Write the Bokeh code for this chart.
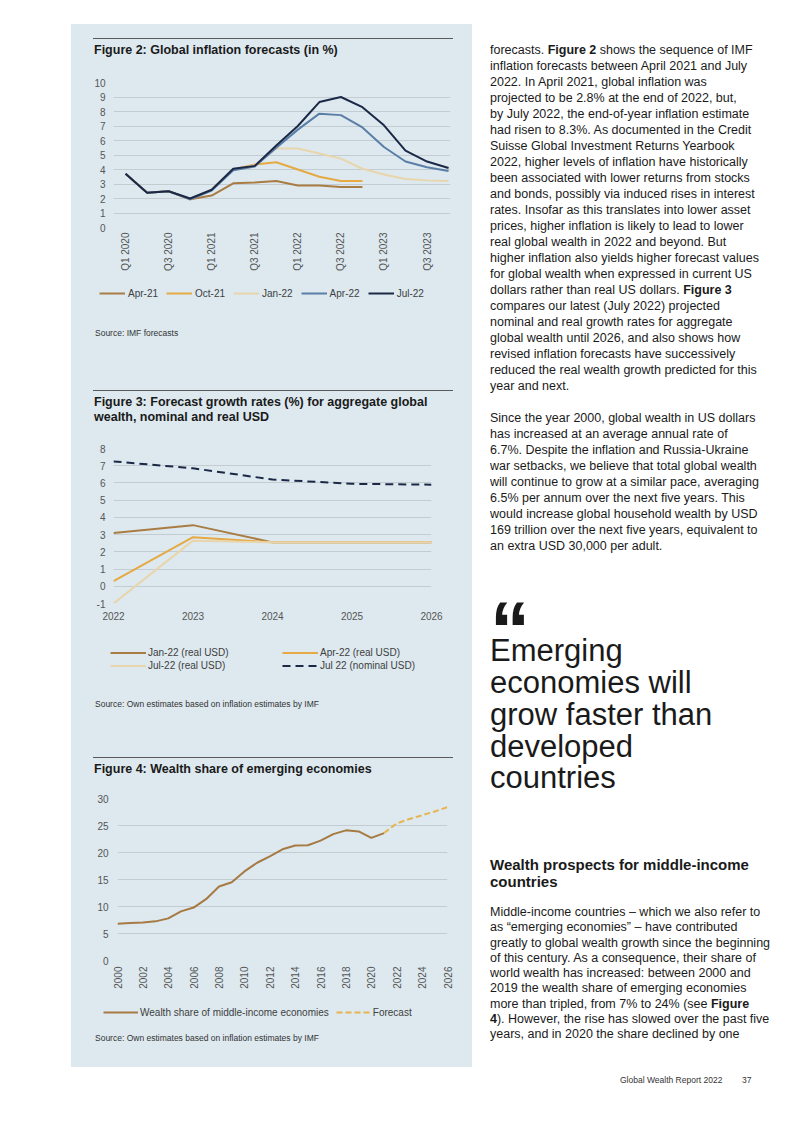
import math
from bokeh.plotting import figure
from bokeh.models import Range1d, FixedTicker, Legend, LegendItem, Div, Spacer
from bokeh.layouts import column, row
from bokeh.embed import file_html
from bokeh.resources import INLINE

PANEL = "#dde9ef"
GRID = "#c3ccd1"
FONT = "Liberation Sans"
TICK_COLOR = "#555555"
LEG_COLOR = "#404040"

BROWN = "#a97c44"
GOLD = "#e5aa44"
BEIGE = "#e9d5ab"
STEEL = "#5a7ea6"
NAVY = "#1b2846"

# ---------------- Figure 2 data: global inflation forecasts (%) ----------------
quarters = ["Q1 2020", "Q2 2020", "Q3 2020", "Q4 2020",
            "Q1 2021", "Q2 2021", "Q3 2021", "Q4 2021",
            "Q1 2022", "Q2 2022", "Q3 2022", "Q4 2022",
            "Q1 2023", "Q2 2023", "Q3 2023", "Q4 2023"]
infl_apr21 = [3.7, 2.4, 2.5, 1.95, 2.2, 3.05, 3.1, 3.2, 2.9, 2.9, 2.8, 2.8]
infl_oct21 = [3.7, 2.4, 2.5, 1.95, 2.6, 4.0, 4.35, 4.5, 4.0, 3.5, 3.2, 3.2]
infl_jan22 = [3.7, 2.4, 2.5, 1.95, 2.6, 4.0, 4.3, 5.45, 5.45, 5.1, 4.75, 4.05, 3.65, 3.35, 3.25, 3.2]
infl_apr22 = [3.7, 2.4, 2.5, 1.95, 2.55, 3.95, 4.2, 5.5, 6.75, 7.85, 7.75, 6.9, 5.55, 4.55, 4.15, 3.9]
infl_jul22 = [3.7, 2.4, 2.5, 2.0, 2.6, 4.05, 4.25, 5.65, 7.0, 8.65, 9.0, 8.3, 7.05, 5.3, 4.55, 4.1]
infl_yticks = [0, 1, 2, 3, 4, 5, 6, 7, 8, 9, 10]

# ---------------- Figure 3 data: forecast growth rates (%) ----------------
growth_years = [2022, 2023, 2024, 2025, 2026]
growth_jan22_real = [3.1, 3.55, 2.55, 2.55, 2.55]
growth_apr22_real = [0.3, 2.85, 2.55, 2.55, 2.55]
growth_jul22_real = [-1.0, 2.65, 2.55, 2.55, 2.55]
growth_jul22_nominal = [7.25, 6.85, 6.2, 5.95, 5.9]
growth_yticks = [-1, 0, 1, 2, 3, 4, 5, 6, 7, 8]

# ---------------- Figure 4 data: wealth share of emerging economies ----------------
share_years = list(range(2000, 2022))
share_values = [6.8, 6.95, 7.05, 7.25, 7.8, 9.1, 9.8, 11.4, 13.7, 14.5, 16.5,
                18.1, 19.3, 20.6, 21.3, 21.35, 22.2, 23.4, 24.1, 23.9, 22.7, 23.6]
forecast_years = [2021, 2022, 2023, 2024, 2025, 2026]
forecast_values = [23.6, 25.4, 26.2, 26.9, 27.6, 28.4]
share_yticks = [0, 5, 10, 15, 20, 25, 30]
share_xticks = list(range(2000, 2027, 2))


def no_align(p):
    try:
        p.frame_align = False
    except Exception:
        pass


def style_fig(p, yticks, xticks, ystand, xstand, overrides=None, vertical=False):
    no_align(p)
    p.background_fill_color = PANEL
    p.border_fill_color = PANEL
    p.outline_line_color = None
    p.xgrid.visible = False
    p.ygrid.grid_line_color = GRID
    p.ygrid.grid_line_width = 1
    p.yaxis.ticker = FixedTicker(ticks=yticks)
    p.xaxis.ticker = FixedTicker(ticks=xticks)
    p.yaxis.major_label_overrides = {t: str(t) for t in yticks}
    for ax in (p.xaxis, p.yaxis):
        ax.axis_line_color = None
        ax.major_tick_line_color = None
        ax.minor_tick_line_color = None
        ax.major_tick_out = 0
        ax.major_tick_in = 0
        ax.minor_tick_out = 0
        ax.major_label_text_font = FONT
        ax.major_label_text_font_size = "10px"
        ax.major_label_text_color = TICK_COLOR
    p.yaxis.major_label_standoff = ystand
    p.xaxis.major_label_standoff = xstand
    if overrides:
        p.xaxis.major_label_overrides = overrides
    if vertical:
        p.xaxis.major_label_orientation = math.pi / 2


def legend_fig(h):
    # a strip that only carries the legend; its y-range is far from the data,
    # so the (real-data) renderers below only serve as legend glyph sources
    lf = figure(width=401, height=h, output_backend="svg", toolbar_location=None,
                x_range=Range1d(0, 1), y_range=Range1d(1000, 1001),
                x_axis_type=None, y_axis_type=None, min_border=0)
    no_align(lf)
    lf.background_fill_color = PANEL
    lf.border_fill_color = PANEL
    lf.outline_line_color = None
    lf.grid.visible = False
    return lf


def make_legend(items, loc, glyph_w, standoff, spacing, orientation="horizontal", h=12):
    lg = Legend(items=items, location=loc, orientation=orientation)
    lg.label_text_font = FONT
    lg.label_text_font_size = "10px"
    lg.label_text_color = LEG_COLOR
    lg.glyph_width = glyph_w
    lg.glyph_height = h
    lg.label_height = h
    lg.label_width = 0
    lg.label_standoff = standoff
    lg.spacing = spacing
    lg.padding = 0
    lg.margin = 0
    lg.border_line_color = None
    lg.background_fill_alpha = 0
    return lg


def header(title_html, h):
    html = (f'<div style="position:relative;width:401px;height:{h}px;background:{PANEL};'
            f'font-family:\'{FONT}\';color:#1a1a1a;">'
            f'<div style="position:absolute;left:22px;top:14px;width:360px;height:0;'
            f'border-top:1px solid #5a5a5a;"></div>'
            f'<div style="position:absolute;left:23px;top:19px;font-size:12.5px;font-weight:bold;'
            f'line-height:14.7px;white-space:nowrap;">{title_html}</div></div>')
    return Div(text=html, width=401, height=h, margin=0, styles={"background-color": PANEL})


def source(text, h, top):
    html = (f'<div style="position:relative;width:401px;height:{h}px;background:{PANEL};'
            f'font-family:\'{FONT}\';">'
            f'<div style="position:absolute;left:24px;top:{top}px;font-size:8.5px;line-height:10px;'
            f'color:#333;white-space:nowrap;">{text}</div></div>')
    return Div(text=html, width=401, height=h, margin=0, styles={"background-color": PANEL})


# ---------------- Chart 1 ----------------
p1 = figure(width=401, height=215, output_backend="svg", toolbar_location=None,
            x_range=Range1d(-0.56, 15.09), y_range=Range1d(0, 10),
            min_border_left=42, min_border_right=22, min_border_top=16, min_border_bottom=54)
q_over = {i: quarters[i] for i in range(0, len(quarters), 2)}
style_fig(p1, infl_yticks, list(range(0, len(quarters), 2)), 8, 5, q_over, vertical=True)
series1 = [("Apr-21", infl_apr21, BROWN), ("Oct-21", infl_oct21, GOLD),
           ("Jan-22", infl_jan22, BEIGE), ("Apr-22", infl_apr22, STEEL),
           ("Jul-22", infl_jul22, NAVY)]
l1 = legend_fig(24)
items1 = []
for name, vals, col in series1:
    xs = list(range(len(vals)))
    p1.line(xs, vals, line_color=col, line_width=2)
    r = l1.line(xs, vals, line_color=col, line_width=2)
    items1.append(LegendItem(label=name, renderers=[r]))
l1.add_layout(make_legend(items1, (28, 6), 26, 3, 8))

# ---------------- Chart 2 ----------------
p2 = figure(width=401, height=195, output_backend="svg", toolbar_location=None,
            x_range=Range1d(2022, 2026), y_range=Range1d(-1, 8),
            min_border_left=42, min_border_right=41, min_border_top=13, min_border_bottom=27)
style_fig(p2, growth_yticks, growth_years, 8, 8)
series2 = [("Jan-22 (real USD)", growth_jan22_real, BROWN, "solid"),
           ("Apr-22 (real USD)", growth_apr22_real, GOLD, "solid"),
           ("Jul-22 (real USD)", growth_jul22_real, BEIGE, "solid"),
           ("Jul 22 (nominal USD)", growth_jul22_nominal, NAVY, "8 5")]
l2 = legend_fig(50)
leg2 = {}
for name, vals, col, dash in series2:
    p2.line(growth_years, vals, line_color=col, line_width=2, line_dash=dash)
    leg2[name] = l2.line(growth_years, vals, line_color=col, line_width=2, line_dash=dash)
l2.add_layout(make_legend([LegendItem(label="Jan-22 (real USD)", renderers=[leg2["Jan-22 (real USD)"]]),
                           LegendItem(label="Jul-22 (real USD)", renderers=[leg2["Jul-22 (real USD)"]])],
                          (39, 8), 36, 2, 0, orientation="vertical", h=13))
l2.add_layout(make_legend([LegendItem(label="Apr-22 (real USD)", renderers=[leg2["Apr-22 (real USD)"]]),
                           LegendItem(label="Jul 22 (nominal USD)", renderers=[leg2["Jul 22 (nominal USD)"]])],
                          (211, 8), 36, 2, 0, orientation="vertical", h=13))

# ---------------- Chart 3 ----------------
p3 = figure(width=401, height=213, output_backend="svg", toolbar_location=None,
            x_range=Range1d(2000, 2026), y_range=Range1d(0, 30),
            min_border_left=46, min_border_right=25, min_border_top=13, min_border_bottom=38)
style_fig(p3, share_yticks, share_xticks, 9, 6, vertical=True)
p3.line(share_years, share_values, line_color="#a67a42", line_width=2)
p3.line(forecast_years, forecast_values, line_color="#e6b450", line_width=2, line_dash="6 3")
l3 = legend_fig(26)
r_s = l3.line(share_years, share_values, line_color="#a67a42", line_width=2)
r_f = l3.line(forecast_years, forecast_values, line_color="#e6b450", line_width=2, line_dash="6 3")
l3.add_layout(make_legend([LegendItem(label="Wealth share of middle-income economies", renderers=[r_s]),
                           LegendItem(label="Forecast", renderers=[r_f])],
                          (32, 6), 35, 2, 7))

left = column(
    header("Figure 2: Global inflation forecasts (in %)", 42),
    p1, l1,
    source("Source: IMF forecasts", 71, 23),
    header("Figure 3: Forecast growth rates (%) for aggregate global<br>wealth, nominal and real USD", 59),
    p2, l2,
    source("Source: Own estimates based on inflation estimates by IMF", 63, 19),
    header("Figure 4: Wealth share of emerging economies", 42),
    p3, l3,
    source("Source: Own estimates based on inflation estimates by IMF", 43, 9),
    spacing=0, styles={"background-color": PANEL},
)

para1 = "<br>".join([
    "forecasts. <b>Figure 2</b> shows the sequence of IMF",
    "inflation forecasts between April 2021 and July",
    "2022. In April 2021, global inflation was",
    "projected to be 2.8% at the end of 2022, but,",
    "by July 2022, the end-of-year inflation estimate",
    "had risen to 8.3%. As documented in the Credit",
    "Suisse Global Investment Returns Yearbook",
    "2022, higher levels of inflation have historically",
    "been associated with lower returns from stocks",
    "and bonds, possibly via induced rises in interest",
    "rates. Insofar as this translates into lower asset",
    "prices, higher inflation is likely to lead to lower",
    "real global wealth in 2022 and beyond. But",
    "higher inflation also yields higher forecast values",
    "for global wealth when expressed in current US",
    "dollars rather than real US dollars. <b>Figure 3</b>",
    "compares our latest (July 2022) projected",
    "nominal and real growth rates for aggregate",
    "global wealth until 2026, and also shows how",
    "revised inflation forecasts have successively",
    "reduced the real wealth growth predicted for this",
    "year and next.",
])
para2 = "<br>".join([
    "Since the year 2000, global wealth in US dollars",
    "has increased at an average annual rate of",
    "6.7%. Despite the inflation and Russia-Ukraine",
    "war setbacks, we believe that total global wealth",
    "will continue to grow at a similar pace, averaging",
    "6.5% per annum over the next five years. This",
    "would increase global household wealth by USD",
    "169 trillion over the next five years, equivalent to",
    "an extra USD 30,000 per adult.",
])
para3 = "<br>".join([
    "Middle-income countries – which we also refer to",
    "as “emerging economies” – have contributed",
    "greatly to global wealth growth since the beginning",
    "of this century. As a consequence, their share of",
    "world wealth has increased: between 2000 and",
    "2019 the wealth share of emerging economies",
    "more than tripled, from 7% to 24% (see <b>Figure</b>",
    "<b>4</b>). However, the rise has slowed over the past five",
    "years, and in 2020 the share declined by one",
])
headline = "Emerging<br>economies will<br>grow faster than<br>developed<br>countries"

NW = "white-space:nowrap;position:absolute;left:0;"
right_html = (
    f'<div style="position:relative;width:290px;height:1066px;font-family:\'{FONT}\';color:#1a1a1a;">'
    f'<div style="{NW}top:17.5px;font-size:12.5px;line-height:16px;">{para1}</div>'
    f'<div style="{NW}top:385.5px;font-size:12.5px;line-height:16px;">{para2}</div>'
    f'<div style="{NW}top:601px;font-size:80px;line-height:10px;font-weight:bold;">&ldquo;</div>'
    f'<div style="{NW}top:611.4px;font-size:31px;line-height:31.7px;">{headline}</div>'
    f'<div style="{NW}top:833px;font-size:15px;line-height:16.7px;font-weight:bold;">'
    f'Wealth prospects for middle-income<br>countries</div>'
    f'<div style="{NW}top:881px;font-size:12.5px;line-height:15.3px;">{para3}</div>'
    f'<div style="white-space:nowrap;position:absolute;left:130px;top:1051px;font-size:8.5px;'
    f'line-height:10px;color:#333;">Global Wealth Report 2022</div>'
    f'<div style="white-space:nowrap;position:absolute;left:252px;top:1051px;font-size:8.5px;'
    f'line-height:10px;color:#333;">37</div>'
    f'</div>'
)
right = Div(text=right_html, width=290, height=1066, margin=0)

page = column(
    Spacer(width=10, height=24),
    row(Spacer(width=71, height=10), left, Spacer(width=18, height=10), right, spacing=0),
    spacing=0,
)

open("out.html", "w").write(file_html(page, INLINE))
